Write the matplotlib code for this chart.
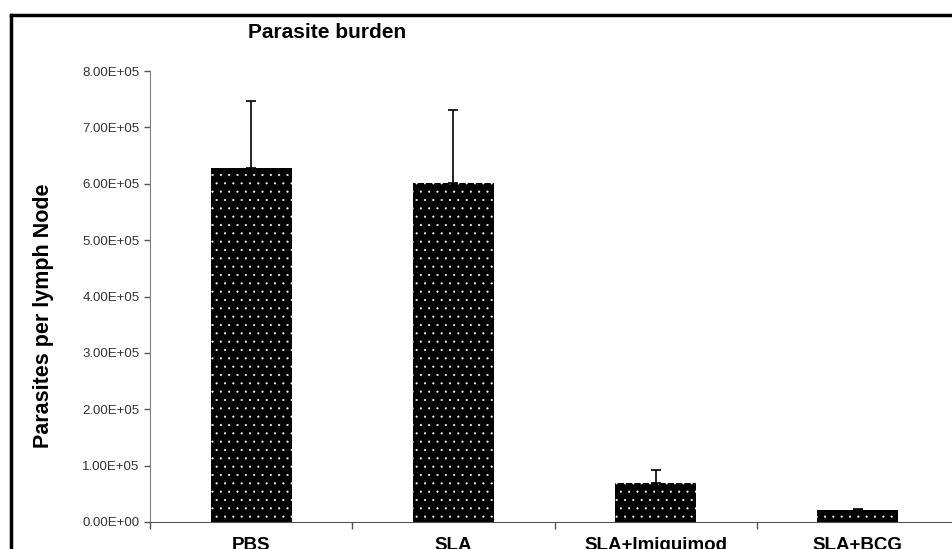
import matplotlib
matplotlib.use("Agg")
import matplotlib.pyplot as plt
from matplotlib.ticker import FuncFormatter
from matplotlib.lines import Line2D

categories = ["PBS", "SLA", "SLA+Imiquimod", "SLA+BCG"]
values = [6.28e5, 6.01e5, 0.69e5, 0.21e5]
errors = [1.18e5, 1.29e5, 0.23e5, 0.02e5]
yticks = [0, 1e5, 2e5, 3e5, 4e5, 5e5, 6e5, 7e5, 8e5]

plt.rcParams['font.family'] = ['Liberation Sans', 'DejaVu Sans']
plt.rcParams['hatch.color'] = 'white'
plt.rcParams['hatch.linewidth'] = 0.3

fig = plt.figure(figsize=(9.52, 5.49), dpi=100)
ax = fig.add_axes([150/952, 27/549, 809/952, 451/549])

x = list(range(len(categories)))
ax.bar(x, values, width=0.4, color='black', edgecolor='white', linewidth=0, hatch='..')
ax.errorbar(x, values, yerr=[[0]*len(values), errors], fmt='none', ecolor='black',
            elinewidth=1.2, capsize=3.5, capthick=1.2)

ax.set_xlim(-0.5, 3.5)
ax.set_ylim(0, 8e5)
ax.set_yticks(yticks)
ax.yaxis.set_major_formatter(FuncFormatter(lambda v, p: f"{v:.2E}"))
ax.set_xticks(x)
ax.set_xticklabels(categories, fontsize=13.5, fontweight='bold')
ax.tick_params(axis='x', which='major', length=0, pad=11)
ax.set_xticks([-0.5, 0.5, 1.5, 2.5, 3.5], minor=True)
ax.tick_params(axis='x', which='minor', length=5, color='#555555', width=1)
ax.tick_params(axis='y', length=4, color='#555555', labelsize=9.5, labelcolor='#333333', width=1)

for s in ['top', 'right']:
    ax.spines[s].set_visible(False)
ax.spines['left'].set_color('#808080')
ax.spines['bottom'].set_color('#555555')

ax.set_ylabel("Parasites per lymph Node", fontsize=15.5, fontweight='bold')
ax.yaxis.set_label_coords(-96/809, 0.457)
fig.text(327/952, 1 - 33/549, "Parasite burden", fontsize=15, fontweight='bold', ha='center', va='center')

# outer frame
fig.add_artist(Line2D([11/952, 11/952], [0, 1 - 15/549], transform=fig.transFigure, color='black', lw=2.5))
fig.add_artist(Line2D([11/952, 1], [1 - 15/549, 1 - 15/549], transform=fig.transFigure, color='black', lw=2.5))

fig.savefig("out.png", dpi=100)
